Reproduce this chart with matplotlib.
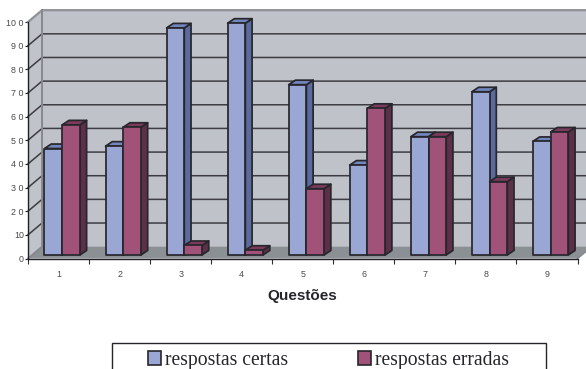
import matplotlib
matplotlib.use('Agg')
import matplotlib.pyplot as plt
from matplotlib.patches import Polygon, Patch, Rectangle

W, H = 586, 369

questoes = ['1', '2', '3', '4', '5', '6', '7', '8', '9']
certas = [45, 46, 96, 98, 72, 38, 50, 69, 48]
erradas = [55, 54, 4, 2, 28, 62, 50, 31, 52]
y_ticks = [0, 10, 20, 30, 40, 50, 60, 70, 80, 90, 100]
y_labels = ['0', '10', '2 0', '3 0', '4 0', '5 0', '6 0', '7 0', '8 0', '9 0', '10 0']

# depth of the 3D box and of the bars, in axis units
WALL_DX, WALL_DY = 0.23, 5.0
BAR_DX, BAR_DY = 0.11, 1.9
BAR_SX, BAR_SY = 0.06, 1.5
BAR_W = 0.29

EDGE = '#26262c'
BLUE = ('#9aa6d4', '#7286bd', '#5b6b9e')
RED = ('#a05279', '#7b3a5c', '#5c3048')

plt.rcParams['font.family'] = ['Liberation Sans', 'DejaVu Sans']

fig = plt.figure(figsize=(W / 100, H / 100), dpi=100, facecolor='white')
ax = fig.add_axes([28 / W, 1 - 258.5 / H, 549.5 / W, 236.5 / H], facecolor='none')
ax.set_xlim(0, 9)
ax.set_ylim(0, 100)


def poly(points, face, edge='none', lw=0, z=1):
    ax.add_patch(Polygon(points, closed=True, facecolor=face, edgecolor=edge,
                         linewidth=lw, zorder=z, clip_on=False, joinstyle='round'))


# walls and floor
poly([(0, 0), (WALL_DX, WALL_DY), (WALL_DX, 100 + WALL_DY), (0, 100)], '#c0c4ca')
poly([(WALL_DX, WALL_DY), (9 + WALL_DX, WALL_DY), (9 + WALL_DX, 100 + WALL_DY), (WALL_DX, 100 + WALL_DY)], '#bfc3c9')
poly([(0, 0), (9, 0), (9 + WALL_DX, WALL_DY), (WALL_DX, WALL_DY)], '#8a9094')

for v in y_ticks[1:-1]:
    ax.plot([0, WALL_DX, 9 + WALL_DX], [v, v + WALL_DY, v + WALL_DY], color='#3c3c42',
            lw=1.1, zorder=2, clip_on=False, solid_joinstyle='miter')

# wall borders
ax.plot([0, WALL_DX, 9 + WALL_DX], [100, 100 + WALL_DY, 100 + WALL_DY], color='#8e9196',
        lw=1.6, zorder=2, clip_on=False)
ax.plot([WALL_DX, WALL_DX, 0], [100 + WALL_DY, WALL_DY, 0], color='#85898e',
        lw=1.4, zorder=2, clip_on=False)
ax.plot([9, 9 + WALL_DX], [0, WALL_DY], color='#85898e', lw=1.2, zorder=2, clip_on=False)


def bar3d(x, v, colors, z):
    x0 = x + BAR_SX
    x1 = x0 + BAR_W
    y0 = BAR_SY
    y1 = BAR_SY + v
    front, top, side = colors
    poly([(x1, y0), (x1 + BAR_DX, y0 + BAR_DY), (x1 + BAR_DX, y1 + BAR_DY), (x1, y1)],
         side, EDGE, 1.25, z)
    poly([(x0, y1), (x1, y1), (x1 + BAR_DX, y1 + BAR_DY), (x0 + BAR_DX, y1 + BAR_DY)],
         top, EDGE, 1.25, z)
    poly([(x0, y0), (x1, y0), (x1, y1), (x0, y1)], front, EDGE, 1.25, z)


for i in range(len(questoes)):
    left = i + (1 - 2 * BAR_W) / 2
    bar3d(left, certas[i], BLUE, 3 + i * 2)
    bar3d(left + BAR_W, erradas[i], RED, 4 + i * 2)

for name in ['top', 'right']:
    ax.spines[name].set_visible(False)
for name in ['left', 'bottom']:
    ax.spines[name].set_color('#202024')
    ax.spines[name].set_linewidth(1.0)
    ax.spines[name].set_zorder(30)

ax.set_yticks(y_ticks)
ax.set_yticklabels(y_labels, fontsize=6.4, color='#48484c')
ax.tick_params(axis='y', length=2.0, width=0.8, pad=1.0, color='#202024')

# ticks between the groups, labels under the group centres
ax.set_xticks(range(10))
ax.set_xticklabels([])
ax.tick_params(axis='x', which='major', length=3.5, width=0.8, color='#303034', direction='out')
ax.set_xticks([i + 0.5 for i in range(9)], minor=True)
ax.set_xticklabels(questoes, minor=True, fontsize=6.4, color='#48484c')
ax.tick_params(axis='x', which='minor', length=0, pad=8.5)

fig.text(302 / W, 1 - 296 / H, 'Questões', fontsize=11, fontweight='bold', color='#26262a',
         ha='center', va='center')

# legend box runs off the bottom edge of the figure
fig.add_artist(Rectangle((112 / W, -10 / H), 434 / W, (H - 343 + 10) / H, transform=fig.transFigure,
                         facecolor='white', edgecolor='#26262a', linewidth=1.0))
handles = [Patch(facecolor=BLUE[0], edgecolor=EDGE, linewidth=1.2),
           Patch(facecolor=RED[0], edgecolor=EDGE, linewidth=1.2)]
leg = fig.legend(handles, ['respostas certas', 'respostas erradas'], ncol=2,
                 loc='upper left', bbox_to_anchor=(148 / W, 1 - 351 / H),
                 borderaxespad=0, borderpad=0, frameon=False,
                 prop={'family': 'Liberation Serif', 'size': 14.1},
                 handlelength=0.67, handleheight=0.67, handletextpad=0.2, columnspacing=3.55)
for t in leg.get_texts():
    t.set_color('#26262a')

fig.savefig('out.png', dpi=100)
